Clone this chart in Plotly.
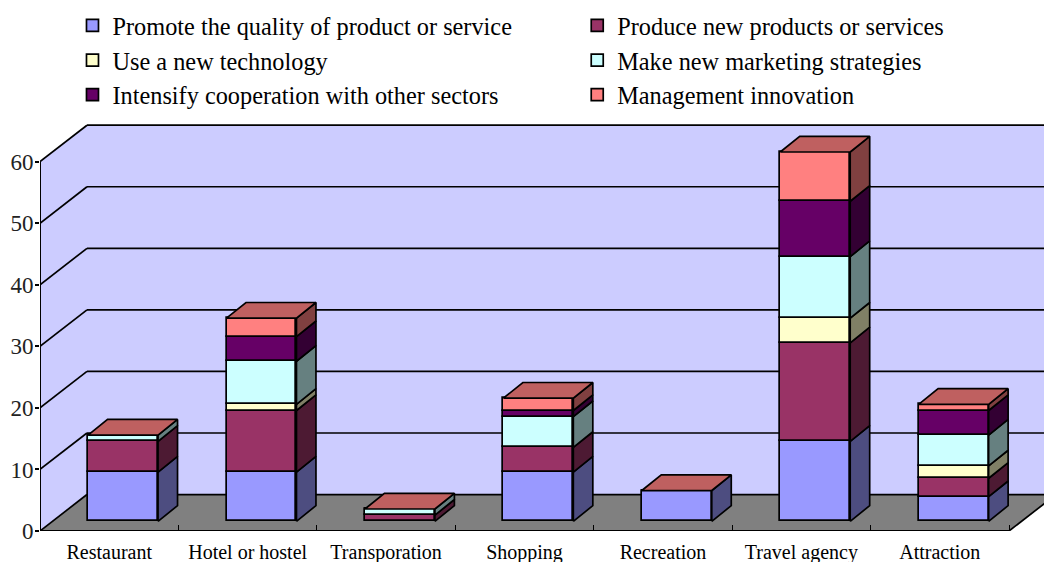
import plotly.graph_objects as go

# Valores
CATEGORIES = ['Restaurant', 'Hotel or hostel', 'Transporation', 'Shopping',
              'Recreation', 'Travel agency', 'Attraction']
SERIES_NAMES = ['Promote the quality of product or service',
                'Produce new products or services',
                'Use a new technology',
                'Make new marketing strategies',
                'Intensify cooperation with other sectors',
                'Management innovation']
QUALITY = [8, 8, 0, 8, 5, 13, 4]
NEW_PRODUCTS = [5, 10, 1, 4, 0, 16, 3]
TECHNOLOGY = [0, 1, 0, 0, 0, 4, 2]
MARKETING = [1, 7, 1, 5, 0, 10, 5]
COOPERATION = [0, 4, 0, 1, 0, 9, 4]
MANAGEMENT = [0, 3, 0, 2, 0, 8, 1]
Y_TICKS = [0, 10, 20, 30, 40, 50, 60]

ALL_VALUES = [QUALITY, NEW_PRODUCTS, TECHNOLOGY, MARKETING, COOPERATION, MANAGEMENT]
FRONT = ['#9999FF', '#993366', '#FFFFCC', '#CCFFFF', '#660066', '#FF8080']
SIDE = ['#4D4D80', '#4D1A33', '#808066', '#668080', '#330033', '#804040']
TOP = '#BF6060'
WALL = '#CCCCFF'
FLOOR = '#808080'
FONT = 'Liberation Serif'

# Geometria em pixels da imagem
LEFT, BOTTOM, TOP_PX = 39.5, 531.5, 120
CAT_PX, UNIT_PX = 138.5, 6.163
N = len(CATEGORIES)
XMAX = (1044 - LEFT) / CAT_PX
YMAX = (BOTTOM - TOP_PX) / UNIT_PX

WALL_DX, WALL_DY = 47 / CAT_PX, 36.5 / UNIT_PX
BAR_DX, BAR_DY = 19.5 / CAT_PX, 15.7 / UNIT_PX
BAR_WIDTH = 70 / CAT_PX
BAR_SHIFT = 0.1
LIFT = 9.7 / UNIT_PX
EDGE = 1.7


def poly(points):
    return 'M' + ' L'.join(f'{x},{y}' for x, y in points) + ' Z'


shapes = []
# parede e chao
shapes.append(dict(type='path', layer='below', fillcolor=WALL, line=dict(width=0),
                   path=poly([(0, 0), (WALL_DX, WALL_DY), (N + WALL_DX, WALL_DY),
                              (N + WALL_DX, 60 + WALL_DY), (WALL_DX, 60 + WALL_DY), (0, 60)])))
shapes.append(dict(type='path', layer='below', fillcolor=FLOOR, line=dict(width=0),
                   path=poly([(0, 0), (WALL_DX, WALL_DY), (N + WALL_DX, WALL_DY), (N, 0)])))
for v in Y_TICKS:
    shapes.append(dict(type='line', layer='below', x0=0, y0=v, x1=WALL_DX, y1=v + WALL_DY,
                       line=dict(color='black', width=EDGE)))
    shapes.append(dict(type='line', layer='below', x0=WALL_DX, y0=v + WALL_DY, x1=N + WALL_DX,
                       y1=v + WALL_DY, line=dict(color='black', width=EDGE)))
shapes.append(dict(type='line', layer='below', x0=0, y0=0, x1=0, y1=60,
                   line=dict(color='black', width=2)))
shapes.append(dict(type='line', layer='below', x0=0, y0=0, x1=N, y1=0,
                   line=dict(color='black', width=2)))
shapes.append(dict(type='line', layer='below', x0=N, y0=0, x1=N + WALL_DX, y1=WALL_DY,
                   line=dict(color='black', width=EDGE)))

fig = go.Figure()

x_left = [i + 0.5 + BAR_SHIFT - BAR_WIDTH / 2 for i in range(N)]
x_center = [i + 0.5 + BAR_SHIFT for i in range(N)]
x_right = [i + 0.5 + BAR_SHIFT + BAR_WIDTH / 2 for i in range(N)]

bases = [LIFT] * N
for s, values in enumerate(ALL_VALUES):
    legend = 'legend' if s % 2 == 0 else 'legend2'
    fig.add_trace(go.Bar(x=x_center, y=values, base=bases, width=BAR_WIDTH, name=SERIES_NAMES[s],
                         marker=dict(color=FRONT[s], line=dict(color='black', width=EDGE)),
                         legend=legend, legendgroup=SERIES_NAMES[s]))
    # face lateral de cada segmento
    side_x, side_y = [], []
    for i in range(N):
        if values[i] == 0:
            continue
        lo, hi = bases[i], bases[i] + values[i]
        side_x += [x_right[i], x_right[i] + BAR_DX, x_right[i] + BAR_DX, x_right[i], x_right[i], None]
        side_y += [lo, lo + BAR_DY, hi + BAR_DY, hi, lo, None]
    fig.add_trace(go.Scatter(x=side_x, y=side_y, mode='lines', fill='toself', fillcolor=SIDE[s],
                             line=dict(color='black', width=EDGE), showlegend=False, hoverinfo='skip'))
    bases = [b + v for b, v in zip(bases, values)]

# tampa de cada barra
top_x, top_y = [], []
for i in range(N):
    top_x += [x_left[i], x_left[i] + BAR_DX, x_right[i] + BAR_DX, x_right[i], x_left[i], None]
    top_y += [bases[i], bases[i] + BAR_DY, bases[i] + BAR_DY, bases[i], bases[i], None]
fig.add_trace(go.Scatter(x=top_x, y=top_y, mode='lines', fill='toself', fillcolor=TOP,
                         line=dict(color='black', width=EDGE), showlegend=False, hoverinfo='skip'))

legend_common = dict(yanchor='top', xanchor='left', bgcolor='rgba(0,0,0,0)', tracegroupgap=0,
                     font=dict(family=FONT, size=24.3, color='black'), itemclick=False)

fig.update_layout(
    width=1044, height=562,
    margin=dict(l=LEFT, r=0, t=TOP_PX, b=562 - BOTTOM, autoexpand=False),
    paper_bgcolor='white', plot_bgcolor='white',
    barmode='overlay', bargap=0,
    shapes=shapes,
    xaxis=dict(range=[0, XMAX], tickmode='array', tickvals=[i + 0.5 for i in range(N)], ticktext=CATEGORIES,
               ticks='', showgrid=False, zeroline=False, showline=False, ticklabelstandoff=7,
               tickfont=dict(family=FONT, size=20, color='black'),
               minor=dict(tickmode='array', tickvals=list(range(1, N + 1)), ticks='inside', ticklen=6,
                          tickcolor='black', tickwidth=1, showgrid=False)),
    yaxis=dict(range=[0, YMAX], tickmode='array', tickvals=Y_TICKS, ticks='outside', ticklen=4,
               tickcolor='black', tickwidth=1.5, showgrid=False, zeroline=False, showline=False,
               ticklabelstandoff=-3,
               tickfont=dict(family=FONT, size=23, color='#222222')),
    legend=dict(x=(72 - LEFT) / (1044 - LEFT), y=(BOTTOM - 3) / (BOTTOM - TOP_PX), **legend_common),
    legend2=dict(x=(577 - LEFT) / (1044 - LEFT), y=(BOTTOM - 3) / (BOTTOM - TOP_PX), **legend_common),
)

# sem a margem padrao do body, para a figura ocupar a janela inteira
fig.write_html("out.html", config=dict(displayModeBar=False),
               post_script="document.body.style.margin='0';")
